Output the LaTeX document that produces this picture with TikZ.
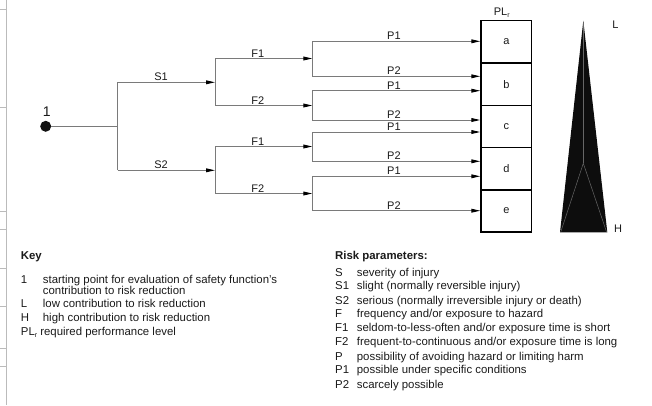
\documentclass[tikz,border=0pt]{standalone}
\usepackage{fontspec}
\setmainfont{Liberation Sans}
\usetikzlibrary{arrows.meta}
\definecolor{lineg}{HTML}{7A7A7A}
\definecolor{txt}{HTML}{1A1A1A}
\definecolor{edgeg}{HTML}{BBBBBB}
\newcommand{\plr}{PL\raisebox{-2.2pt}{\fontsize{7}{7}\selectfont r}}
\begin{document}
\begin{tikzpicture}[x=1pt,y=-1pt,
  conn/.style={lineg, line width=1pt},
  arr/.style={conn, -{Triangle[length=9pt,width=3.8pt,black]}},
  lbl/.style={font=\fontsize{11}{13}\selectfont, text=txt, inner sep=1pt, above},
  cell/.style={draw=black, line width=1.5pt, minimum width=50.7pt, minimum height=42.3pt, font=\fontsize{11}{13}\selectfont, text=txt, inner sep=0pt},
  legend/.style={anchor=base west, font=\fontsize{11.4}{13}\selectfont, inner sep=0pt, text=txt},
  legendb/.style={legend, font=\fontsize{11.4}{13}\selectfont\bfseries},
  dot/.style={circle, fill=black!93, inner sep=0pt, minimum size=11pt},
  edgeline/.style={edgeg, line width=0.8pt}
]
\useasboundingbox (0,0) rectangle (652,405);

% page edge marks
\draw[edgeline] (6.7,0) -- (6.7,405);
\foreach \yy in {9,107,211,229,268,306,348,366} \draw[edgeline] (0,\yy) -- (6.7,\yy);

% start point
\node[dot] (start) at (45.7,126.3) {};
\node[font=\fontsize{14}{16}\selectfont, text=txt, inner sep=0pt] (one) at (46.7,111.7) {1};

% junctions
\coordinate (jS) at (117.5,126.3);
\coordinate (jS1) at (117.5,82.3);
\coordinate (jS2) at (117.5,170.3);
\coordinate (kA) at (215,82.3);
\coordinate (kA1) at (215,58.5);
\coordinate (kA2) at (215,105.5);
\coordinate (kB) at (215,170.3);
\coordinate (kB1) at (215,146.5);
\coordinate (kB2) at (215,193.5);
\coordinate (g1) at (312.3,58.5);  \coordinate (g1a) at (312.3,41.3);  \coordinate (g1b) at (312.3,76.3);
\coordinate (g2) at (312.3,105.5); \coordinate (g2a) at (312.3,90.7);  \coordinate (g2b) at (312.3,120);
\coordinate (g3) at (312.3,146.5); \coordinate (g3a) at (312.3,132);   \coordinate (g3b) at (312.3,161.3);
\coordinate (g4) at (312.3,193.5); \coordinate (g4a) at (312.3,176.3); \coordinate (g4b) at (312.3,210.7);

% PLr column
\node[cell] (a) at (506.35,41.85) {a};
\node[cell] (b) at (506.35,84.15) {b};
\node[cell] (c) at (506.35,126.45) {c};
\node[cell] (d) at (506.35,168.75) {d};
\node[cell] (e) at (506.35,211.05) {e};
\node[font=\fontsize{11}{13}\selectfont, text=txt, inner sep=0pt] (plrlabel) at (501.7,12.7) {\plr};

% tree
\draw[conn] (start) -- (jS);
\draw[conn] (jS1) -- (jS2);
\draw[arr] (jS1) -- (kA) node[lbl,pos=.446] (lS1) {S1};
\draw[arr] (jS2) -- (kB) node[lbl,pos=.446] (lS2) {S2};
\draw[conn] (kA1) -- (kA2);
\draw[conn] (kB1) -- (kB2);
\draw[arr] (kA1) -- (g1) node[lbl,pos=.44] (lF1a) {F1};
\draw[arr] (kA2) -- (g2) node[lbl,pos=.44] (lF2a) {F2};
\draw[arr] (kB1) -- (g3) node[lbl,pos=.44] (lF1b) {F1};
\draw[arr] (kB2) -- (g4) node[lbl,pos=.44] (lF2b) {F2};
\foreach \g in {g1,g2,g3,g4} \draw[conn] (\g a) -- (\g b);
\draw[arr] (g1a) -- (g1a -| a.west) node[lbl,pos=.486] (lP1a) {P1};
\draw[arr] (g1b) -- (g1b -| b.west) node[lbl,pos=.486] (lP2a) {P2};
\draw[arr] (g2a) -- (g2a -| b.west) node[lbl,pos=.486] (lP1b) {P1};
\draw[arr] (g2b) -- (g2b -| c.west) node[lbl,pos=.486] (lP2b) {P2};
\draw[arr] (g3a) -- (g3a -| c.west) node[lbl,pos=.486] (lP1c) {P1};
\draw[arr] (g3b) -- (g3b -| d.west) node[lbl,pos=.486] (lP2c) {P2};
\draw[arr] (g4a) -- (g4a -| d.west) node[lbl,pos=.486] (lP1d) {P1};
\draw[arr] (g4b) -- (g4b -| e.west) node[lbl,pos=.486] (lP2d) {P2};

% L-H wedge
\fill[black!95] (583.3,20.7) -- (607.3,232.3) -- (560,232.3) -- cycle;
\draw[black!60, line width=0.5pt] (583.3,22) -- (583.3,163.3);
\draw[black!60, line width=0.5pt] (560.8,231.8) -- (583.3,163.3) -- (606.5,231.8);
\node[font=\fontsize{11}{13}\selectfont, text=txt, inner sep=0pt] (lL) at (615.3,25) {L};
\node[font=\fontsize{11}{13}\selectfont, text=txt, inner sep=0pt] (lH) at (618,228.3) {H};

% Key
\node[legendb] (key) at (20.7,259.7) {Key};
\node[legend] (k1) at (20.7,283.3) {1};
\node[legend] (k1t) at (42.7,283.3) {starting point for evaluation of safety function’s};
\node[legend] (k1u) at (42.7,294) {contribution to risk reduction};
\node[legend] (kL) at (20.7,307.3) {L};
\node[legend] (kLt) at (42.7,307.3) {low contribution to risk reduction};
\node[legend] (kH) at (20.7,321.7) {H};
\node[legend] (kHt) at (42.7,321.7) {high contribution to risk reduction};
\node[legend] (kP) at (20.7,335.7) {\plr\ required performance level};

% Risk parameters
\node[legendb] (rp) at (335,259) {Risk parameters:};
\foreach \s/\t/\yy [count=\i] in {
  S/severity of injury/276.3,
  S1/slight (normally reversible injury)/289.7,
  S2/serious (normally irreversible injury or death)/304,
  F/frequency and\slash or exposure to hazard/317.3,
  F1/seldom-to-less-often and\slash or exposure time is short/331.7,
  F2/frequent-to-continuous and\slash or exposure time is long/345.7,
  P/possibility of avoiding hazard or limiting harm/360,
  P1/possible under specific conditions/373.3,
  P2/scarcely possible/388} {
  \node[legend] (rs\i) at (335,\yy) {\s};
  \node[legend] (rt\i) at (356.7,\yy) {\t};
}
\end{tikzpicture}
\end{document}
